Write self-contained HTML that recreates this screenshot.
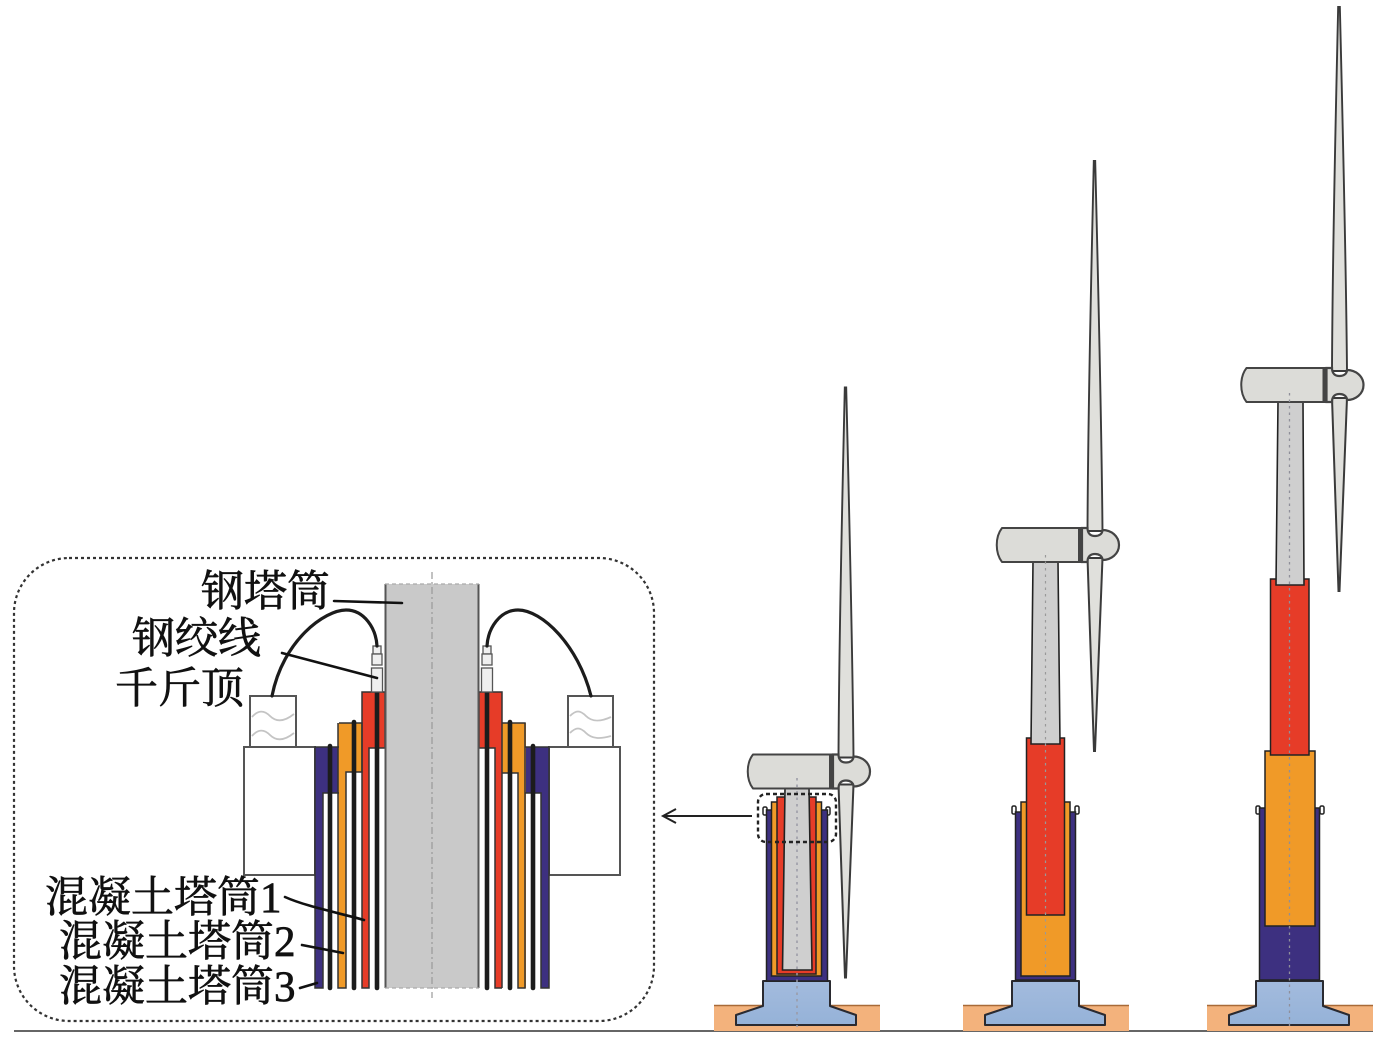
<!DOCTYPE html>
<html><head><meta charset="utf-8"><style>
html,body{margin:0;padding:0;background:#fff}
svg{display:block}
text{font-family:"Liberation Serif","Noto Serif CJK SC",serif;font-size:43px;fill:#111;stroke:#111;stroke-width:.7px}
</style></head><body>
<svg width="1386" height="1042" viewBox="0 0 1386 1042" xmlns="http://www.w3.org/2000/svg">
<defs>
<linearGradient id="b" x1="0" y1="0" x2="0" y2="1"><stop offset="0" stop-color="#a3bbdd"/><stop offset="1" stop-color="#95b2d8"/></linearGradient>
<g id="top">
<path d="M47.800,-384 C45.500,-280 42,-140 41.500,-14 L56.500,-14 C55.500,-130 52,-270 49.200,-384Z" fill="#e0e0dc" stroke="#3a3a3a" stroke-width="1.900"/>
<path d="M41.500,13 L56.500,13 L49,206 L48,206 Z" fill="#e0e0dc" stroke="#3a3a3a" stroke-width="2"/>
<path d="M-44,-17 L33,-17 L33,17 L-44,17 C-51,8 -51,-8 -44,-17Z" fill="#dcdcd8" stroke="#444" stroke-width="2" stroke-linejoin="round"/>
<path d="M36,-17 L41.500,-17 C41.500,-11 45,-9 49,-9 C53,-9 56.500,-11 56.500,-15 C65,-15 73,-9 73,0 C73,9 65,15 56.500,15 C56.500,11 53,9 49,9 C45,9 41.500,11 41.500,17 L36,17Z" fill="#dcdcd8" stroke="#444" stroke-width="2.200"/>
<rect x="33" y="-18" width="3.500" height="36" fill="#444"/>
</g>
<g id="base">
<rect x="-83" y="1005" width="166" height="26" fill="#f3b27c"/>
<path d="M-83,1005.500H83" stroke="#a86a38" stroke-width="1.500"/>
<path d="M-34,981 L33,981 L33,1006 L59,1015 L59,1025 L-61,1025 L-61,1015 L-34,1006Z" fill="url(#b)" stroke="#2a2a30" stroke-width="2" stroke-linejoin="round"/>
</g>
<g id="clip"><rect x="-2" y="0" width="4" height="8" rx="1.500" fill="#fff" stroke="#222" stroke-width="1.500"/></g>
</defs>

<!-- ground -->
<path d="M14,1031H1373" stroke="#333" stroke-width="1.500"/>

<!-- detail box -->
<rect x="14" y="558" width="640" height="463" rx="55" ry="55" fill="#fff" stroke="#333" stroke-width="2.200" stroke-dasharray="3 3"/>

<!-- detail: white boxes -->
<rect x="244" y="747" width="71" height="128" fill="#fff" stroke="#555" stroke-width="2"/>
<rect x="549" y="747" width="71" height="128" fill="#fff" stroke="#555" stroke-width="2"/>
<rect x="250" y="696" width="46" height="51" fill="#fff" stroke="#555" stroke-width="2"/>
<rect x="568" y="696" width="45" height="51" fill="#fff" stroke="#555" stroke-width="2"/>
<g fill="none" stroke="#c4c4c4" stroke-width="1.800">
<path d="M252,717 C258,710 264,710 270,716 C276,722 284,722 294,714"/>
<path d="M252,736 C258,729 264,729 270,735 C276,741 284,741 294,733"/>
<path d="M570,716 C576,710 580,710 586,716 C592,722 600,722 611,717"/>
<path d="M570,733 C576,727 580,727 586,733 C592,739 600,739 611,736"/>
</g>

<!-- detail: concrete tubes left -->
<path d="M315,747H339V988H315Z" fill="#3d3080"/>
<rect x="323" y="793" width="16" height="196" fill="#fff"/>
<path d="M338,723H362V988H338Z" fill="#f09a28"/>
<rect x="346" y="772" width="16" height="217" fill="#fff"/>
<path d="M362,692H385V988H362Z" fill="#e63c28"/>
<rect x="369" y="748" width="16" height="241" fill="#fff"/>
<g fill="none" stroke="#333" stroke-width="1.500">
<path d="M339,723H362V772H346V988H338V723"/>
<path d="M362,772V692H385V748H369V988H362V772"/>
<path d="M339,747H315V988H323V793H339"/>
</g>
<!-- detail: right -->
<path d="M525,747H549V988H525Z" fill="#3d3080"/>
<rect x="525" y="793" width="16" height="196" fill="#fff"/>
<path d="M502,723H526V988H502Z" fill="#f09a28"/>
<rect x="502" y="773" width="16" height="216" fill="#fff"/>
<path d="M479,692H502V988H479Z" fill="#e63c28"/>
<rect x="479" y="748" width="16" height="241" fill="#fff"/>
<g fill="none" stroke="#333" stroke-width="1.500">
<path d="M502,723H525V988H518V773H502"/>
<path d="M502,988H495V748H479V692H502V988"/>
<path d="M525,747H549V988H541V793H525"/>
</g>
<!-- strands -->
<g stroke="#1c1c1c" stroke-width="4.600" stroke-linecap="round">
<path d="M330,746V988"/><path d="M354,722V988"/><path d="M377,692V988"/>
<path d="M487,692V988"/><path d="M510,722V988"/><path d="M533,746V988"/>
</g>

<!-- steel tower -->
<rect x="385" y="584" width="94" height="404" fill="#c9c9c9"/>
<path d="M385.500,584V988M478.500,584V988" stroke="#555" stroke-width="2"/>
<path d="M385,584H479M385,988H479" stroke="#aaa" stroke-width="1.200" stroke-dasharray="4 3"/>
<path d="M432,572V998" stroke="#999" stroke-width="1.200" stroke-dasharray="7 3 2 3"/>

<!-- jacks -->
<g fill="#efefef" stroke="#555" stroke-width="1.300">
<rect x="373" y="646" width="8" height="8"/><rect x="372" y="654" width="10" height="11"/><rect x="371.500" y="668" width="11" height="24"/>
<rect x="483" y="646" width="8" height="8"/><rect x="482" y="654" width="10" height="11"/><rect x="481.500" y="668" width="11" height="24"/>
</g>
<!-- cables -->
<g fill="none" stroke="#1c1c1c" stroke-width="3.200" stroke-linecap="round">
<path d="M272,696 C283,640 325,610 346,610 C364,610 376,628 377,646"/>
<path d="M487,646 C488,628 500,610 518,610 C542,610 578,645 591,696"/>
</g>
<!-- leaders -->
<g fill="none" stroke="#111" stroke-width="2.600" stroke-linecap="round">
<path d="M334,601L402,603"/>
<path d="M282,653L377,678"/>
<path d="M285,897C305,906 335,912 364,920"/>
<path d="M302,945L343,953"/>
<path d="M300,988L317,983"/>
</g>

<!-- labels -->
<text x="201" y="606">钢塔筒</text>
<text x="132" y="653">钢绞线</text>
<text x="115" y="703">千斤顶</text>
<text x="45" y="912">混凝土塔筒1</text>
<text x="59" y="956">混凝土塔筒2</text>
<text x="59" y="1001">混凝土塔筒3</text>

<!-- arrow -->
<path d="M752,816H664" stroke="#222" stroke-width="2"/>
<path d="M676,809L663,816L676,823" fill="none" stroke="#222" stroke-width="2"/>

<!-- Turbine 1 -->
<use href="#base" x="797"/>
<use href="#clip" x="765" y="807"/><use href="#clip" x="828" y="807"/>
<rect x="766.500" y="810" width="61" height="171" fill="#3d3080" stroke="#222" stroke-width="1.500"/>
<rect x="771.500" y="802" width="50" height="174" fill="#f09a28" stroke="#222" stroke-width="1.500"/>
<rect x="777" y="797" width="39" height="177" fill="#e63c28" stroke="#222" stroke-width="1.500"/>
<path d="M785,788H809L812,970H782.500Z" fill="#cfcfcf" stroke="#222" stroke-width="1.600"/>
<use href="#top" x="797" y="771.500"/>
<path d="M797,778V1027" stroke="#9a9aa6" stroke-width="1.500" stroke-dasharray="2.500 4"/>
<rect x="758" y="794" width="78" height="48" rx="8" fill="none" stroke="#222" stroke-width="2.400" stroke-dasharray="4 3"/>

<!-- Turbine 2 -->
<use href="#base" x="1046"/>
<use href="#clip" x="1014" y="806"/><use href="#clip" x="1077" y="806"/>
<rect x="1015.500" y="812" width="60" height="168" fill="#3d3080" stroke="#222" stroke-width="1.500"/>
<rect x="1021" y="802" width="49" height="174" fill="#f09a28" stroke="#222" stroke-width="1.500"/>
<rect x="1026.500" y="738" width="38" height="177" fill="#e63c28" stroke="#222" stroke-width="1.500"/>
<path d="M1033,562H1058L1060,744H1031Z" fill="#cfcfcf" stroke="#222" stroke-width="1.600"/>
<use href="#top" x="1046" y="545"/>
<path d="M1045.500,555V975" stroke="#999" stroke-width="1.200" stroke-dasharray="2.500 4"/>

<!-- Turbine 3 -->
<use href="#base" x="1290"/>
<use href="#clip" x="1258" y="806"/><use href="#clip" x="1322" y="806"/>
<rect x="1259.500" y="808" width="60" height="172" fill="#3d3080" stroke="#222" stroke-width="1.500"/>
<rect x="1265" y="751" width="50" height="175" fill="#f09a28" stroke="#222" stroke-width="1.500"/>
<rect x="1270.500" y="579" width="38.500" height="176" fill="#e63c28" stroke="#222" stroke-width="1.500"/>
<path d="M1278,402H1303L1304,585H1276Z" fill="#cfcfcf" stroke="#222" stroke-width="1.600"/>
<use href="#top" x="1290.500" y="385"/>
<rect x="1330" y="0" width="20" height="6" fill="#fff"/>
<path d="M1289.500,393V1027" stroke="#8f8f9a" stroke-width="1.300" stroke-dasharray="2.500 4"/>
</svg>
</body></html>
